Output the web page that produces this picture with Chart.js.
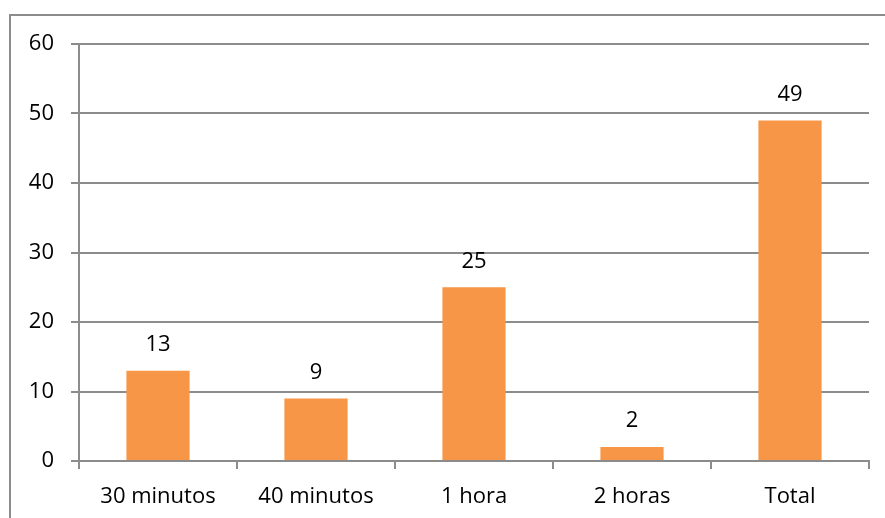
<!DOCTYPE html>
<html>
<head>
<meta charset="utf-8">
<script src="https://cdn.jsdelivr.net/npm/chart.js@4"></script>
<style>
  html, body { margin: 0; padding: 0; background: #fff; }
  #wrap { width: 885px; height: 518px; position: relative; }
</style>
</head>
<body>
<div id="wrap"><canvas id="grafico"></canvas></div>
<script>
// dados do gráfico
const categorias = ['30 minutos', '40 minutos', '1 hora', '2 horas', 'Total'];
const valores = [13, 9, 25, 2, 49];
const yTicks = [0, 10, 20, 30, 40, 50, 60];

const cinza = '#8c8c8c';
const laranja = '#F79646';
const fonte = "'Open Sans', 'Noto Sans', sans-serif";

// moldura externa (só topo e esquerda visíveis)
const moldura = {
  id: 'moldura',
  beforeDraw(chart) {
    const ctx = chart.ctx;
    ctx.save();
    ctx.strokeStyle = cinza;
    ctx.lineWidth = 2;
    ctx.beginPath();
    ctx.moveTo(10, 520);
    ctx.lineTo(10, 15);
    ctx.lineTo(890, 15);
    ctx.stroke();
    ctx.restore();
  }
};

// rótulos acima das barras
const rotulos = {
  id: 'rotulos',
  afterDatasetsDraw(chart) {
    const ctx = chart.ctx;
    const meta = chart.getDatasetMeta(0);
    ctx.save();
    ctx.fillStyle = '#000';
    ctx.font = '22px ' + fonte;
    ctx.textAlign = 'center';
    ctx.textBaseline = 'middle';
    meta.data.forEach((bar, i) => {
      ctx.fillText(String(valores[i]), bar.x, bar.y - 26);
    });
    ctx.restore();
  }
};

new Chart(document.getElementById('grafico'), {
  type: 'bar',
  data: {
    labels: categorias,
    datasets: [{
      data: valores,
      backgroundColor: laranja,
      borderWidth: 0,
      categoryPercentage: 1,
      barPercentage: 0.4
    }]
  },
  options: {
    responsive: true,
    maintainAspectRatio: false,
    animation: false,
    layout: { padding: { top: 44, right: 16, left: 0, bottom: 0 } },
    plugins: {
      legend: { display: false },
      tooltip: { enabled: false }
    },
    scales: {
      x: {
        offset: true,
        grid: {
          offset: true,
          drawOnChartArea: false,
          drawTicks: true,
          tickLength: 8,
          color: cinza,
          lineWidth: 2
        },
        border: { color: cinza, width: 2 },
        ticks: { color: '#000', font: { family: fonte, size: 22 }, padding: 15, maxRotation: 0 },
        afterFit(scale) { scale.height = 57; }
      },
      y: {
        min: 0,
        max: 60,
        afterBuildTicks(scale) { scale.ticks = yTicks.map(v => ({ value: v })); },
        grid: {
          color: cinza,
          lineWidth: 2,
          drawTicks: true,
          tickLength: 8
        },
        border: { color: cinza, width: 2 },
        ticks: { color: '#000', font: { family: fonte, size: 22 }, padding: 17 },
        afterFit(scale) { scale.width = 79; }
      }
    }
  },
  plugins: [moldura, rotulos]
});
</script>
</body>
</html>
